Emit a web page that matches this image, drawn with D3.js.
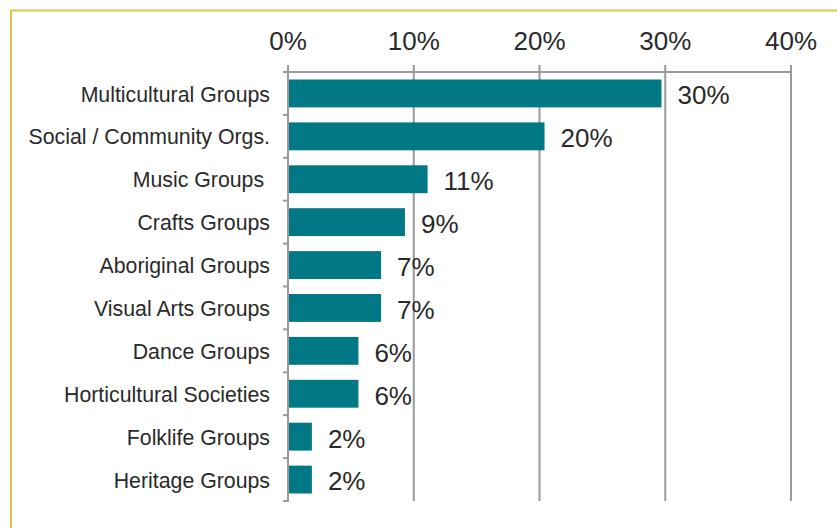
<!DOCTYPE html>
<html>
<head>
<meta charset="utf-8">
<script src="https://cdn.jsdelivr.net/npm/d3@7"></script>
<style>
  body { margin: 0; background: #fff; }
  svg { display: block; font-family: "Liberation Sans", Arial, sans-serif; }
</style>
</head>
<body>
<svg id="chart"></svg>
<script>
const categories = [
    "Multicultural Groups",
    "Social / Community Orgs.",
    "Music Groups ",
    "Crafts Groups",
    "Aboriginal Groups",
    "Visual Arts Groups",
    "Dance Groups",
    "Horticultural Societies",
    "Folklife Groups",
    "Heritage Groups"
];
const values = [29.7, 20.4, 11.1, 9.3, 7.4, 7.4, 5.6, 5.6, 1.9, 1.9];
const ticks = [0, 10, 20, 30, 40];

const width = 837;
const height = 528;

const svg = d3.select("#chart")
    .attr("width", width)
    .attr("height", height);

// frame (only left/top visible in the picture)
svg.append("rect")
    .attr("x", 11)
    .attr("y", 10.5)
    .attr("width", 900)
    .attr("height", 600)
    .attr("fill", "none")
    .attr("stroke", "#e3c43f")
    .attr("stroke-width", 2);

const x = d3.scaleLinear()
    .domain([0, 40])
    .range([288, 791]);

const y = d3.scaleBand()
    .domain(categories)
    .range([72, 501])
    .paddingInner(0.35)
    .paddingOuter(0.175);

const grey = "#9a9a9a";

// gridlines
svg.append("g")
    .selectAll("line")
    .data(ticks.slice(1))
    .enter()
    .append("line")
    .attr("x1", d => x(d))
    .attr("x2", d => x(d))
    .attr("y1", 65)
    .attr("y2", 501)
    .attr("stroke", grey)
    .attr("stroke-width", 2);

// top axis line
svg.append("line")
    .attr("x1", 283)
    .attr("x2", x(40))
    .attr("y1", 72)
    .attr("y2", 72)
    .attr("stroke", grey)
    .attr("stroke-width", 2);

// left axis line + category ticks
svg.append("line")
    .attr("x1", x(0))
    .attr("x2", x(0))
    .attr("y1", 65)
    .attr("y2", 502)
    .attr("stroke", grey)
    .attr("stroke-width", 2);

const step = y.step();
svg.append("g")
    .selectAll("line")
    .data(d3.range(categories.length + 1))
    .enter()
    .append("line")
    .attr("x1", 283)
    .attr("x2", x(0))
    .attr("y1", i => 72 + i * step)
    .attr("y2", i => 72 + i * step)
    .attr("stroke", grey)
    .attr("stroke-width", 2);

// tick labels
svg.append("g")
    .selectAll("text")
    .data(ticks)
    .enter()
    .append("text")
    .attr("x", d => x(d))
    .attr("y", 50)
    .attr("text-anchor", "middle")
    .attr("font-size", "26px")
    .attr("fill", "#2a2a2a")
    .text(d => d + "%");

// bars
svg.append("g")
    .selectAll("rect")
    .data(values)
    .enter()
    .append("rect")
    .attr("x", x(0) + 1)
    .attr("y", (d, i) => y(categories[i]))
    .attr("width", d => x(d) - x(0) - 1)
    .attr("height", y.bandwidth())
    .attr("fill", "#017885");

// category labels
svg.append("g")
    .selectAll("text")
    .data(categories)
    .enter()
    .append("text")
    .attr("x", 270)
    .attr("y", d => y(d) + y.bandwidth() / 2)
    .attr("dy", "0.38em")
    .attr("text-anchor", "end")
    .attr("font-size", "21.3px")
    .attr("fill", "#2a2a2a")
    .style("white-space", "pre")
    .text(d => d);

// value labels
svg.append("g")
    .selectAll("text")
    .data(values)
    .enter()
    .append("text")
    .attr("x", d => x(d) + 16)
    .attr("y", (d, i) => y(categories[i]) + y.bandwidth() / 2)
    .attr("dy", "0.42em")
    .attr("font-size", "26px")
    .attr("fill", "#2a2a2a")
    .text(d => Math.round(d) + "%");
</script>
</body>
</html>
